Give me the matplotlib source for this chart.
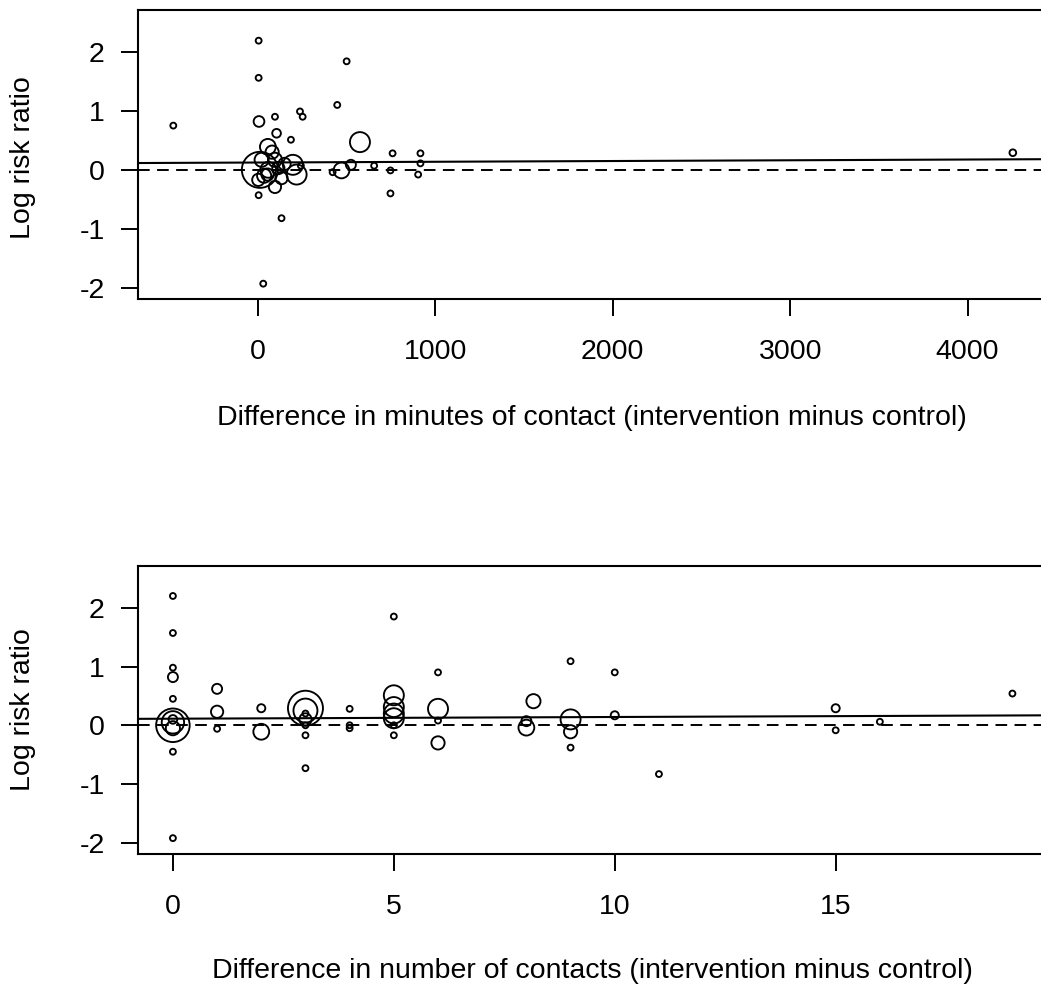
import numpy as np
import matplotlib
matplotlib.use("Agg")
import matplotlib.pyplot as plt

plt.rcParams['font.family'] = ['Liberation Sans', 'DejaVu Sans']

# --- top panel: difference in minutes of contact ---
minutes_x = [-477, 4, 4, 500, 447, 96, 237, 252, 186, 759, 916, 916, 903, 747, 747,
             655, 421, 133, 30, 4, 242,
             6, 105, 575, 471, 524, 11, 56, 197, 218, 96, 2, 54, 21, 96, 115, 58, 133,
             80, 150, 35, 4255]
minutes_y = [0.75, 2.19, 1.56, 1.84, 1.10, 0.90, 0.99, 0.90, 0.51, 0.28, 0.28, 0.11, -0.08, -0.01, -0.40,
             0.07, -0.04, -0.82, -1.93, -0.43, 0.07,
             0.82, 0.62, 0.47, -0.01, 0.085, 0.0, 0.39, 0.085, -0.08, -0.29, -0.17, -0.08, 0.17, 0.17, 0.03, 0.0, -0.14,
             0.3, 0.1, -0.1, 0.29]
minutes_w = [1.4, 1.4, 1.4, 1.4, 1.4, 1.4, 1.4, 1.4, 1.4, 1.4, 1.4, 1.4, 1.4, 1.4, 1.4,
             1.4, 1.4, 1.4, 1.4, 1.4, 1.4,
             4.6, 3, 16, 10, 4, 52, 10, 16, 16, 6, 6, 6, 8, 8, 6, 10, 6,
             7, 6, 8, 1.8]
minutes_fit = (0.124, 1.27e-5)   # intercept, slope

# --- bottom panel: difference in number of contacts ---
contacts_x = [0, 0, 0, 0, 0, 0, 0, 0, 0, 0, 0,
              1, 1, 1, 2, 2,
              3, 3, 3, 3, 3, 3, 3,
              4, 4, 4,
              5, 5, 5, 5, 5, 5, 5,
              6, 6, 6, 6,
              8, 8, 8.16, 9, 9, 9, 9, 10, 10, 11, 15, 15, 16, 19]
contacts_y = [2.20, 1.57, 0.98, 0.82, 0.45, 0.0, 0.05, -0.05, -0.45, -1.92, 0.1,
              0.62, 0.23, -0.06, 0.29, -0.11,
              0.29, 0.25, 0.2, 0.0, -0.17, -0.73, 0.1,
              0.28, 0.0, -0.05,
              1.85, 0.51, 0.31, 0.2, 0.12, 0.0, -0.17,
              0.9, 0.28, 0.08, -0.30,
              0.07, -0.04, 0.41, 1.09, 0.1, -0.11, -0.38, 0.9, 0.17, -0.83, 0.29, -0.085, 0.06, 0.54]
contacts_w = [1.4, 1.4, 1.4, 4, 1.4, 45, 20, 8, 1.4, 1.4, 3,
              4, 6, 1.4, 2.6, 10,
              49, 23, 1.4, 1.4, 1.4, 1.4, 6,
              1.4, 1.4, 1.4,
              1.4, 16, 16, 16, 16, 1.4, 1.4,
              1.4, 16, 1.4, 7,
              4, 10, 8, 1.4, 16, 7, 1.4, 1.4, 2.6, 1.4, 2.6, 1.4, 1.4, 1.4]
contacts_fit = (0.112, 0.0029)

y_ticks = [-2, -1, 0, 1, 2]
ylim = (-2.19, 2.71)

fig = plt.figure(figsize=(10.41, 9.9), dpi=100)
ax_top = fig.add_axes([138 / 1041, 1 - 299 / 990, 908 / 1041, 289 / 990])
ax_bot = fig.add_axes([138 / 1041, 1 - 854 / 990, 908 / 1041, 288 / 990])


def panel(ax, x, y, w, fit, xlim, xticks, xlabel):
    r_px = 2.5 * np.sqrt(np.array(w))
    ax.scatter(x, y, s=(2 * r_px * 0.72) ** 2, facecolors='none',
               edgecolors='black', linewidths=1.35, zorder=3)
    xs = np.array(xlim)
    ax.plot(xs, fit[0] + fit[1] * xs, color='black', lw=1.5, zorder=2)
    ax.axhline(0, color='black', lw=1.4, linestyle=(0, (6, 3.8)), zorder=2)
    ax.set_xlim(*xlim)
    ax.set_ylim(*ylim)
    ax.set_xticks(xticks)
    ax.set_xticklabels([str(t) for t in xticks])
    ax.set_yticks(y_ticks)
    ax.set_yticklabels([str(t) for t in y_ticks])
    ax.tick_params(axis='both', direction='out', length=12, width=1.4,
                   labelsize=20.5, colors='black')
    ax.tick_params(axis='y', pad=12)
    ax.tick_params(axis='x', pad=17)
    for s in ax.spines.values():
        s.set_linewidth(1.5)
    ax.set_xlabel(xlabel, fontsize=20.5, va='center')
    ax.set_ylabel('Log risk ratio', fontsize=20.5, va='center')


panel(ax_top, minutes_x, minutes_y, minutes_w, minutes_fit, (-676, 4442),
      [0, 1000, 2000, 3000, 4000],
      'Difference in minutes of contact (intervention minus control)')
ax_top.xaxis.set_label_coords(0.5, -0.412)
ax_top.yaxis.set_label_coords(-0.127, 0.49)

panel(ax_bot, contacts_x, contacts_y, contacts_w, contacts_fit, (-0.79, 19.76),
      [0, 5, 10, 15],
      'Difference in number of contacts (intervention minus control)')
ax_bot.xaxis.set_label_coords(0.5, -0.406)
ax_bot.yaxis.set_label_coords(-0.127, 0.5)

fig.savefig('out.png', dpi=100)
